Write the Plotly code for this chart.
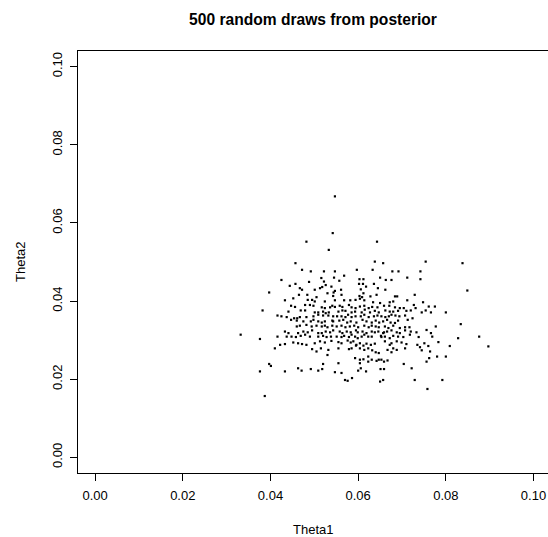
import plotly.graph_objects as go

# Posterior draws (Theta1, Theta2), row by row
theta1 = [
    0.0547,
    0.0542,
    0.0482, 0.0643,
    0.0533,
    0.0638, 0.0754,
    0.0657, 0.0457, 0.0838,
    0.0472, 0.0597, 0.0633,
    0.0492, 0.0522, 0.0547, 0.0678, 0.0692, 0.0742,
    0.0568,
    0.0545, 0.0650, 0.0712,
    0.0516,
    0.0603, 0.0612, 0.0742,
    0.0425, 0.0663, 0.0676,
    0.0557,
    0.0522,
    0.0488,
    0.0457, 0.0602, 0.0611, 0.0636,
    0.0526,
    0.0444,
    0.0539, 0.0618,
    0.0518,
    0.0467, 0.0513, 0.0645,
    0.0606,
    0.0472, 0.0501, 0.0561, 0.0662,
    0.0849,
    0.0547,
    0.0544, 0.0397,
    0.0530, 0.0612,
    0.0465, 0.0484, 0.0562, 0.0642, 0.0729,
    0.0543, 0.0603,
    0.0628, 0.0684, 0.0689,
    0.0505, 0.0609,
    0.0452,
    0.0604,
    0.0485, 0.0495, 0.0594,
    0.0433, 0.0547, 0.0568, 0.0582, 0.0614, 0.0712,
    0.0501, 0.0524, 0.0680,
    0.0634, 0.0672, 0.0748,
    0.0650,
    0.0479, 0.0490, 0.0579, 0.0727,
    0.0447, 0.0498, 0.0541, 0.0558, 0.0614, 0.0659, 0.0671,
    0.0761, 0.0775, 0.0604,
    0.0456, 0.0547, 0.0564, 0.0632,
    0.0517, 0.0536, 0.0585, 0.0644, 0.0684,
    0.0524, 0.0594, 0.0624, 0.0695, 0.0731, 0.0704,
    0.0382, 0.0469, 0.0479, 0.0564, 0.0615, 0.0754, 0.0720, 0.0662,
    0.0571, 0.0638, 0.0691, 0.0710,
    0.0441, 0.0520, 0.0555, 0.0593, 0.0672, 0.0680,
    0.0501, 0.0509, 0.0533, 0.0585, 0.0608, 0.0627, 0.0647, 0.0745, 0.0766, 0.0800,
    0.0526,
    0.0509, 0.0577, 0.0614, 0.0676,
    0.0416, 0.0520, 0.0532, 0.0644, 0.0685, 0.0707,
    0.0425, 0.0498, 0.0543, 0.0552, 0.0562, 0.0594, 0.0606, 0.0636, 0.0653, 0.0670, 0.0694,
    0.0437, 0.0467, 0.0482, 0.0571, 0.0585, 0.0624, 0.0662,
    0.0454, 0.0461, 0.0724,
    0.0447, 0.0498, 0.0566, 0.0610, 0.0666, 0.0713,
    0.0460, 0.0541, 0.0557, 0.0640, 0.0691,
    0.0475, 0.0492, 0.0509, 0.0524, 0.0543, 0.0583, 0.0619, 0.0657,
    0.0517, 0.0575, 0.0596, 0.0631, 0.0648, 0.0674,
    0.0684,
    0.0834,
    0.0482,
    0.0467, 0.0505, 0.0524, 0.0541, 0.0562, 0.0591, 0.0614, 0.0631, 0.0680,
    0.0460, 0.0494, 0.0517, 0.0551, 0.0581, 0.0640, 0.0661, 0.0777,
    0.0530, 0.0571, 0.0600, 0.0624, 0.0647, 0.0707, 0.0717,
    0.0669, 0.0695,
    0.0756,
    0.0495, 0.0543, 0.0595, 0.0676, 0.0707,
    0.0433, 0.0475, 0.0526, 0.0558, 0.0574, 0.0610, 0.0631, 0.0646, 0.0666, 0.0720,
    0.0485, 0.0536, 0.0583, 0.0599, 0.0638, 0.0659, 0.0688, 0.0733,
    0.0441, 0.0463, 0.0509, 0.0517, 0.0564, 0.0619, 0.0657, 0.0695, 0.0766,
    0.0332, 0.0479, 0.0585, 0.0614, 0.0718,
    0.0469, 0.0520, 0.0568, 0.0652, 0.0680,
    0.0416, 0.0437, 0.0448, 0.0490, 0.0509, 0.0538, 0.0551, 0.0593, 0.0608, 0.0623, 0.0631, 0.0661, 0.0691, 0.0769, 0.0876,
    0.0458, 0.0528, 0.0562, 0.0579, 0.0653, 0.0703, 0.0738,
    0.0599, 0.0672, 0.0828,
    0.0376,
    0.0576,
    0.0539,
    0.0513, 0.0589, 0.0661, 0.0688,
    0.0555, 0.0783,
    0.0524, 0.0583, 0.0699, 0.0452,
    0.0463, 0.0501, 0.0562, 0.0604, 0.0676, 0.0751,
    0.0619, 0.0638,
    0.0433, 0.0472, 0.0710,
    0.0422, 0.0482, 0.0596, 0.0629, 0.0672, 0.0735,
    0.0612, 0.0595,
    0.0760, 0.0809,
    0.0897,
    0.0741,
    0.0410, 0.0515, 0.0555, 0.0604, 0.0623, 0.0680, 0.0707, 0.0585,
    0.0495, 0.0579,
    0.0532, 0.0614, 0.0667, 0.0688,
    0.0632, 0.0745,
    0.0505, 0.0764,
    0.0640, 0.0676,
    0.0647,
    0.0530,
    0.0623, 0.0780, 0.0800,
    0.0593, 0.0762,
    0.0612,
    0.0604, 0.0631, 0.0647, 0.0653,
    0.0667,
    0.0642,
    0.0623, 0.0659, 0.0756,
    0.0555, 0.0604,
    0.0397, 0.0704, 0.0520,
    0.0401,
    0.0463, 0.0606, 0.0722,
    0.0492, 0.0518, 0.0651, 0.0659,
    0.0509, 0.0600, 0.0471,
    0.0376, 0.0433, 0.0618,
    0.0547,
    0.0562,
    0.0586,
    0.0570, 0.0657, 0.0729, 0.0792,
    0.0576,
    0.0650,
    0.0758,
    0.0387,
]

theta2 = [
    0.0668,
    0.0574,
    0.0552, 0.0552,
    0.0531,
    0.0501, 0.0501,
    0.0497, 0.0497, 0.0497,
    0.0480, 0.0480, 0.0480,
    0.0476, 0.0476, 0.0476, 0.0476, 0.0476, 0.0476,
    0.0465,
    0.0460, 0.0460, 0.0460,
    0.0459,
    0.0456, 0.0456, 0.0456,
    0.0454, 0.0454, 0.0454,
    0.0452,
    0.0450,
    0.0449,
    0.0444, 0.0444, 0.0444, 0.0444,
    0.0441,
    0.0439,
    0.0437, 0.0437,
    0.0436,
    0.0433, 0.0433, 0.0433,
    0.0430,
    0.0429, 0.0429, 0.0429, 0.0429,
    0.0427,
    0.0426,
    0.0422, 0.0422,
    0.0420, 0.0420,
    0.0416, 0.0416, 0.0416, 0.0416, 0.0416,
    0.0413, 0.0413,
    0.0412, 0.0412, 0.0412,
    0.0410, 0.0410,
    0.0407,
    0.0406,
    0.0403, 0.0403, 0.0403,
    0.0402, 0.0402, 0.0402, 0.0402, 0.0402, 0.0402,
    0.0399, 0.0399, 0.0399,
    0.0397, 0.0397, 0.0397,
    0.0395,
    0.0390, 0.0390, 0.0390, 0.0390,
    0.0388, 0.0388, 0.0388, 0.0388, 0.0388, 0.0388, 0.0388,
    0.0386, 0.0386, 0.0386,
    0.0385, 0.0385, 0.0385, 0.0385,
    0.0384, 0.0384, 0.0384, 0.0384, 0.0384,
    0.0382, 0.0382, 0.0382, 0.0382, 0.0382, 0.0382,
    0.0376, 0.0376, 0.0376, 0.0376, 0.0378, 0.0376, 0.0376, 0.0376,
    0.0375, 0.0375, 0.0375, 0.0375,
    0.0373, 0.0373, 0.0373, 0.0373, 0.0373, 0.0373,
    0.0371, 0.0371, 0.0371, 0.0371, 0.0371, 0.0371, 0.0371, 0.0371, 0.0371, 0.0371,
    0.0369,
    0.0365, 0.0365, 0.0365, 0.0365,
    0.0363, 0.0363, 0.0363, 0.0363, 0.0363, 0.0363,
    0.0361, 0.0361, 0.0361, 0.0361, 0.0361, 0.0361, 0.0361, 0.0361, 0.0361, 0.0361, 0.0361,
    0.0359, 0.0359, 0.0359, 0.0359, 0.0359, 0.0359, 0.0359,
    0.0356, 0.0356, 0.0356,
    0.0352, 0.0352, 0.0352, 0.0352, 0.0352, 0.0352,
    0.0350, 0.0350, 0.0350, 0.0350, 0.0350,
    0.0348, 0.0348, 0.0348, 0.0348, 0.0348, 0.0348, 0.0348, 0.0348,
    0.0345, 0.0345, 0.0345, 0.0345, 0.0345, 0.0345,
    0.0344,
    0.0341,
    0.0339,
    0.0337, 0.0337, 0.0337, 0.0337, 0.0337, 0.0337, 0.0337, 0.0337, 0.0337,
    0.0335, 0.0335, 0.0335, 0.0335, 0.0335, 0.0335, 0.0335, 0.0335,
    0.0333, 0.0333, 0.0333, 0.0333, 0.0333, 0.0333, 0.0333,
    0.0331, 0.0331,
    0.0326,
    0.0325, 0.0325, 0.0325, 0.0325, 0.0325,
    0.0322, 0.0322, 0.0322, 0.0322, 0.0322, 0.0322, 0.0322, 0.0322, 0.0322, 0.0322,
    0.0320, 0.0320, 0.0320, 0.0320, 0.0320, 0.0320, 0.0320, 0.0320,
    0.0318, 0.0318, 0.0318, 0.0318, 0.0318, 0.0318, 0.0318, 0.0318, 0.0318,
    0.0314, 0.0314, 0.0314, 0.0314, 0.0314,
    0.0311, 0.0311, 0.0311, 0.0311, 0.0311,
    0.0309, 0.0309, 0.0309, 0.0309, 0.0309, 0.0309, 0.0309, 0.0309, 0.0309, 0.0309, 0.0309, 0.0309, 0.0309, 0.0309, 0.0309,
    0.0308, 0.0308, 0.0308, 0.0308, 0.0308, 0.0308, 0.0308,
    0.0305, 0.0305, 0.0305,
    0.0303,
    0.0299,
    0.0298,
    0.0297, 0.0297, 0.0297, 0.0297,
    0.0295, 0.0295,
    0.0294, 0.0294, 0.0294, 0.0294,
    0.0292, 0.0292, 0.0292, 0.0292, 0.0292, 0.0292,
    0.0291, 0.0291,
    0.0290, 0.0290, 0.0290,
    0.0288, 0.0288, 0.0288, 0.0288, 0.0288, 0.0288,
    0.0286, 0.0286,
    0.0285, 0.0285,
    0.0284,
    0.0282,
    0.0279, 0.0279, 0.0279, 0.0279, 0.0279, 0.0279, 0.0279, 0.0279,
    0.0277, 0.0277,
    0.0275, 0.0275, 0.0275, 0.0275,
    0.0274, 0.0274,
    0.0271, 0.0271,
    0.0269, 0.0269,
    0.0267,
    0.0262,
    0.0258, 0.0258, 0.0258,
    0.0254, 0.0254,
    0.0251,
    0.0250, 0.0250, 0.0250, 0.0250,
    0.0248,
    0.0247,
    0.0245, 0.0245, 0.0245,
    0.0241, 0.0241,
    0.0239, 0.0239, 0.0239,
    0.0234,
    0.0228, 0.0228, 0.0228,
    0.0226, 0.0226, 0.0226, 0.0226,
    0.0222, 0.0222, 0.0222,
    0.0220, 0.0220, 0.0220,
    0.0218,
    0.0216,
    0.0203,
    0.0198, 0.0198, 0.0198, 0.0198,
    0.0196,
    0.0194,
    0.0175,
    0.0157,
]

tick_vals = [0.00, 0.02, 0.04, 0.06, 0.08, 0.10]
tick_text = ["0.00", "0.02", "0.04", "0.06", "0.08", "0.10"]

FONT = "Liberation Sans, Arial, Helvetica, sans-serif"

fig = go.Figure()
fig.add_trace(go.Scatter(
    x=theta1, y=theta2, mode="markers",
    marker=dict(symbol="square", size=2.2, color="black", line=dict(width=0)),
    hoverinfo="skip", showlegend=False,
))

axis_common = dict(
    showgrid=False, zeroline=False, showline=True, linecolor="black", linewidth=1,
    ticks="outside", ticklen=7, tickwidth=1, tickcolor="black",
    tickvals=tick_vals, ticktext=tick_text,
    tickfont=dict(family=FONT, size=13, color="black"),
)

fig.update_layout(
    width=548, height=537,
    margin=dict(l=78, r=0, t=51, b=64),
    paper_bgcolor="white", plot_bgcolor="white",
    font=dict(family=FONT, color="black"),
    title=dict(
        text="<b>500 random draws from posterior</b>",
        font=dict(family=FONT, size=15.6, color="black"),
        x=0.5, xref="paper", y=1 - 19.5 / 537, yref="container",
        xanchor="center", yanchor="middle",
    ),
    xaxis=dict(range=[-0.0039, 0.1033], mirror=True, ticklabelstandoff=3, **axis_common),
    yaxis=dict(range=[-0.004, 0.104], mirror=False, tickangle=-90, ticklabelstandoff=3, **axis_common),
    annotations=[
        dict(text="Theta1", xref="paper", yref="paper", x=0.5, y=0,
             xanchor="center", yanchor="middle", yshift=-56, showarrow=False,
             font=dict(family=FONT, size=13, color="black")),
        dict(text="Theta2", xref="paper", yref="paper", x=0, y=0.5,
             xanchor="center", yanchor="middle", xshift=-58, textangle=-90, showarrow=False,
             font=dict(family=FONT, size=13, color="black")),
    ],
)

fig.write_html("out.html")
